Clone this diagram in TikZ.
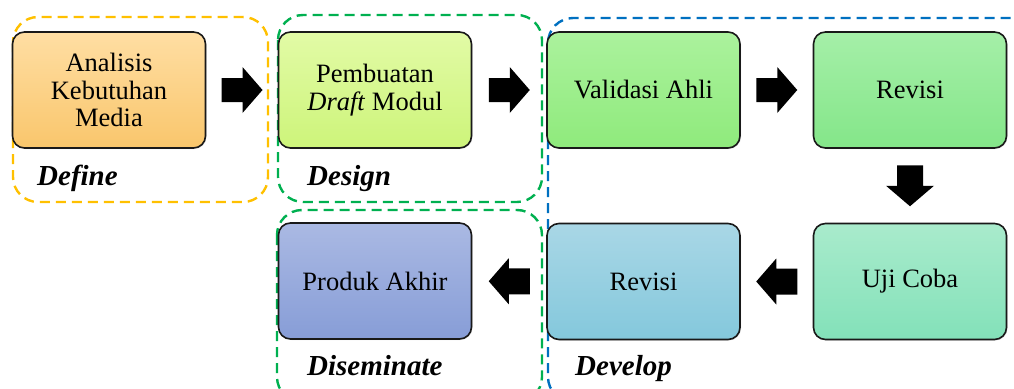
\documentclass[tikz,border=0pt]{standalone}
\usepackage{fontspec}
\setmainfont{Liberation Serif}
\usetikzlibrary{shadows,calc}
\definecolor{fyel}{HTML}{FFC000}
\definecolor{fgrn}{HTML}{00B050}
\definecolor{fblu}{HTML}{0070C0}
\definecolor{c1t}{HTML}{FFDEA3}\definecolor{c1b}{HTML}{F9C66C}
\definecolor{c2t}{HTML}{E2FBA6}\definecolor{c2b}{HTML}{CDF47A}
\definecolor{c3t}{HTML}{ABF29D}\definecolor{c3b}{HTML}{8FEA7C}
\definecolor{c4t}{HTML}{A5EFA8}\definecolor{c4b}{HTML}{84E689}
\definecolor{c5t}{HTML}{A9EBCC}\definecolor{c5b}{HTML}{83E1B9}
\definecolor{c6t}{HTML}{A9D7E6}\definecolor{c6b}{HTML}{84C8DC}
\definecolor{c7t}{HTML}{AAB9E3}\definecolor{c7b}{HTML}{879DD7}
\begin{document}
\begin{tikzpicture}[x=1pt,y=-1pt,
  box/.style={draw=black!90, line width=1.6pt, rounded corners=12pt,
    minimum width=193pt, minimum height=116pt, align=center,
    font=\fontsize{26.5}{27.5}\selectfont,
    drop shadow={opacity=0.25, shadow xshift=1pt, shadow yshift=-1pt}},
  frame/.style={line width=2.4pt, dash pattern=on 10pt off 6pt, rounded corners=25pt},
  phase/.style={anchor=base west, inner sep=0pt, font=\fontsize{29}{31}\selectfont\bfseries\itshape},
  rarr/.pic={\fill[black] (-20.5,-12) -- (0.5,-12) -- (0.5,-23) -- (20.5,0) -- (0.5,23) -- (0.5,12) -- (-20.5,12) -- cycle;},
  larr/.pic={\fill[black] (20.5,-13) -- (-0.5,-13) -- (-0.5,-23) -- (-20.5,0) -- (-0.5,23) -- (-0.5,13) -- (20.5,13) -- cycle;},
  darr/.pic={\fill[black] (-13,-20.5) -- (-13,0) -- (-24,0) -- (0,20.5) -- (24,0) -- (13,0) -- (13,-20.5) -- cycle;}
]
\useasboundingbox (0,0) rectangle (1014,388);
\clip (0,0) rectangle (1014,388);
% frames
\draw[frame, fyel] (13,17) rectangle (268,202);
\draw[frame, fgrn] (278,15) rectangle (542,202);
\draw[frame, fgrn] (277,210) rectangle (542,402);
\draw[frame, fblu] (548,18) rectangle (1040,402);
% boxes
\node[box, top color=c1t, bottom color=c1b] (b1) at (109,90) {Analisis\\Kebutuhan\\Media};
\node[box, top color=c2t, bottom color=c2b] (b2) at (375,90) {Pembuatan\\\textit{Draft} Modul};
\node[box, top color=c3t, bottom color=c3b] (b3) at (643.5,90) {Validasi Ahli};
\node[box, top color=c4t, bottom color=c4b] (b4) at (910,90) {Revisi};
\node[box, top color=c5t, bottom color=c5b] (b5) at (910,281.5) {Uji Coba};
\node[box, top color=c6t, bottom color=c6b] (b6) at (643.5,281.5) {Revisi};
\node[box, top color=c7t, bottom color=c7b] (b7) at (375,281) {Produk Akhir};
% block arrows
\coordinate (a1) at ($(b1.east)!0.5!(b2.west)$);
\coordinate (a2) at ($(b2.east)!0.5!(b3.west)$);
\coordinate (a3) at ($(b3.east)!0.5!(b4.west)$);
\coordinate (a4) at ($(b4.south)!0.5!(b5.north)$);
\coordinate (a5) at ($(b5.west)!0.5!(b6.east)$);
\coordinate (a6) at ($(b6.west)!0.5!(b7.east)$);
\pic at (a1) {rarr};
\pic at (a2) {rarr};
\pic at (a3) {rarr};
\pic at (a4) {darr};
\pic at (a5) {larr};
\pic at (a6) {larr};
% phase labels
\node[phase] (l1) at (37,185) {Define};
\node[phase] (l2) at (307,185) {Design};
\node[phase] (l3) at (307,375) {Diseminate};
\node[phase] (l4) at (575,375) {Develop};
\end{tikzpicture}
\end{document}
